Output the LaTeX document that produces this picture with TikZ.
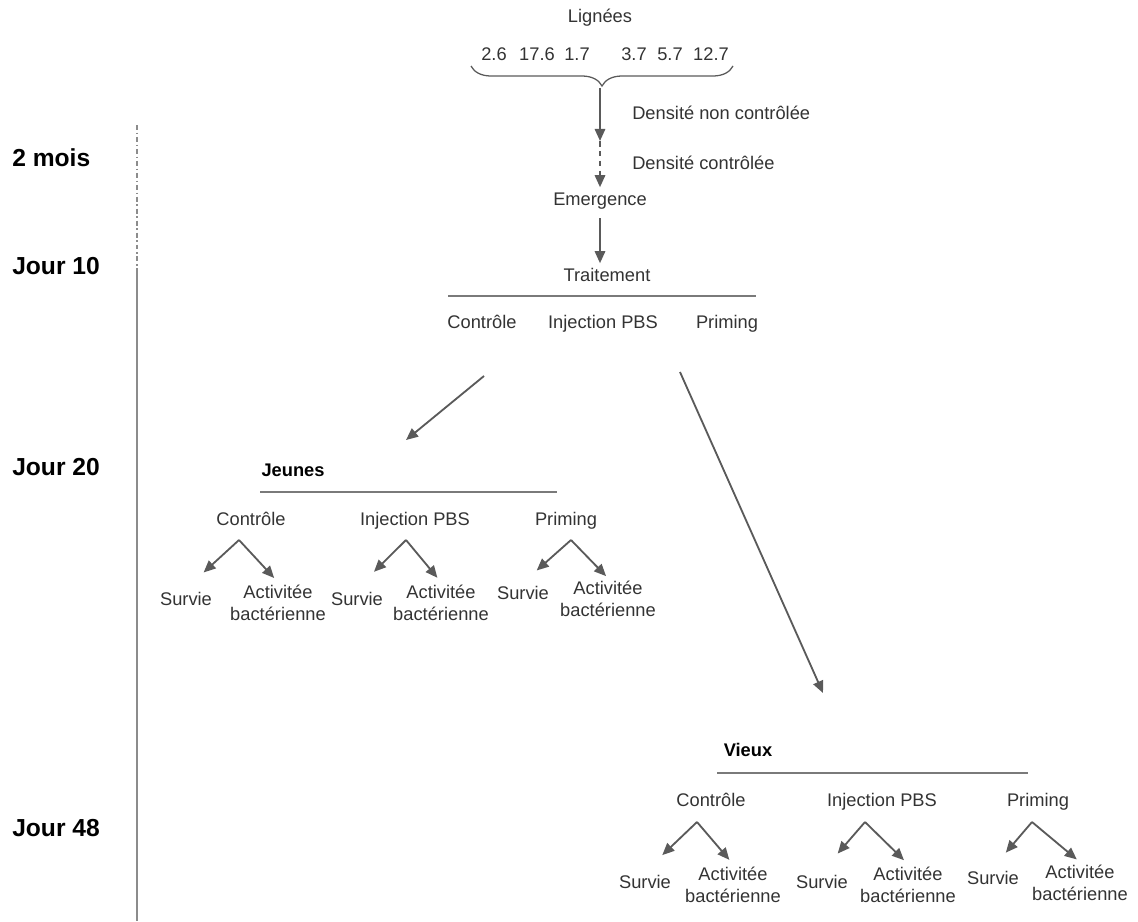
\documentclass[tikz,border=0pt]{standalone}
\usepackage{fontspec}
\setmainfont{Liberation Sans}
\usepackage{xcolor}
\usepackage{tikz}
\usetikzlibrary{arrows.meta,decorations.pathreplacing}

\definecolor{txtgray}{HTML}{333333}
\definecolor{arrgray}{HTML}{5A5A5A}
\definecolor{rulegray}{HTML}{7A7A7A}
\definecolor{timegray}{HTML}{8C8C8C}

\begin{document}
\begin{tikzpicture}[
x=0.025cm, y=-0.025cm,
lbl/.style={font=\fontsize{13}{15.6}\selectfont, text=txtgray, inner sep=2pt, align=center},
onelbl/.style={lbl, text height=1em, text depth=0.18em},
grplbl/.style={font=\fontsize{13}{15.6}\selectfont\bfseries, text=black, inner sep=2pt},
daylbl/.style={font=\fontsize{17.5}{21}\selectfont\bfseries, text=black, anchor=west, inner sep=0pt},
denslbl/.style={lbl, anchor=west, inner sep=0pt},
grprule/.style={draw=rulegray, line width=1pt},
arr/.style={-{Triangle[length=3mm,width=2.6mm]}, draw=arrgray, line width=1.3pt},
brace/.style={decorate, decoration={brace, mirror, amplitude=0.5cm, aspect=0.5},
draw=arrgray, line width=0.9pt}
]
\useasboundingbox (0,0) rectangle (1138,921);

% time line
\node[daylbl] (t0) at (12,158) {2 mois};
\node[daylbl] (t10) at (12,266) {Jour 10};
\node[daylbl] (t20) at (12,467) {Jour 20};
\node[daylbl] (t48) at (12,828) {Jour 48};
\coordinate (ttop) at (137,125);
\coordinate (tmid) at (137,268);
\coordinate (tbot) at (137,921);
\draw[draw=timegray, line width=1.3pt, dash pattern=on 3.5pt off 2pt on 1pt off 2pt] (ttop) -- (tmid);
\draw[draw=timegray, line width=1.4pt] (tmid) -- (tbot);

% lignees
\node[onelbl] (lign) at (600,17) {Lignées};
\node[onelbl] (l1) at (494,55) {2.6};
\node[onelbl] (l2) at (537,55) {17.6};
\node[onelbl] (l3) at (577,55) {1.7};
\node[onelbl] (l4) at (634,55) {3.7};
\node[onelbl] (l5) at (670,55) {5.7};
\node[onelbl] (l6) at (711,55) {12.7};
\draw[brace] (471,66) -- (733,66);
\coordinate (brtip) at (600,88);
\coordinate (dens) at (600,141);

\node[denslbl] (dnc) at (632,113) {Densité non contrôlée};
\node[denslbl] (dc) at (632,163) {Densité contrôlée};
\node[onelbl] (emerg) at (600,200) {Emergence};
\node[onelbl] (trait) at (607,276) {Traitement};
\draw[grprule] (448,296) -- (756,296);
\node[onelbl] (tc) at (482,323) {Contrôle};
\node[onelbl] (tp) at (603,323) {Injection PBS};
\node[onelbl] (tr) at (727,323) {Priming};

\draw[arr] (brtip) -- (dens);
\draw[arr, dash pattern=on 4pt off 3pt] (dens) -- ([yshift=1pt]emerg.north);
\draw[arr, shorten <=5pt, shorten >=1pt] (emerg.south) -- (emerg.south |- trait.north);

\coordinate (ajs) at (484,376);
\coordinate (aje) at (406,440);
\coordinate (avs) at (680,372);
\coordinate (ave) at (823,693);
\draw[arr] (ajs) -- (aje);
\draw[arr] (avs) -- (ave);

% jeunes
\node[grplbl] (jeunes) at (293,470) {Jeunes};
\draw[grprule] (260,492) -- (557,492);
\node[onelbl] (jc) at (251,520) {Contrôle};
\node[onelbl] (jp) at (415,520) {Injection PBS};
\node[onelbl] (jr) at (566,520) {Priming};
\coordinate (jcx) at (239,540);
\coordinate (jpx) at (406,540);
\coordinate (jrx) at (571,540);
\node[onelbl] (jcs) at (186,600) {Survie};
\node[lbl] (jca) at (278,603) {Activitée\\bactérienne};
\node[onelbl] (jps) at (357,600) {Survie};
\node[lbl] (jpa) at (441,603) {Activitée\\bactérienne};
\node[onelbl] (jrs) at (523,594) {Survie};
\node[lbl] (jra) at (608,599) {Activitée\\bactérienne};
\draw[arr, shorten >=17pt] (jcx) -- (jcs.north);
\draw[arr, shorten >=4pt] (jcx) -- (jca.north);
\draw[arr, shorten >=17pt] (jpx) -- (jps.north);
\draw[arr, shorten >=4pt] (jpx) -- (jpa.north);
\draw[arr, shorten >=13pt] (jrx) -- (jrs.north);
\draw[arr, shorten >=2pt] (jrx) -- (jra.north);

% vieux
\node[grplbl] (vieux) at (748,750) {Vieux};
\draw[grprule] (717,773) -- (1028,773);
\node[onelbl] (vc) at (711,801) {Contrôle};
\node[onelbl] (vp) at (882,801) {Injection PBS};
\node[onelbl] (vr) at (1038,801) {Priming};
\coordinate (vcx) at (697,822);
\coordinate (vpx) at (865,822);
\coordinate (vrx) at (1032,822);
\node[onelbl] (vcs) at (645,883) {Survie};
\node[lbl] (vca) at (733,885) {Activitée\\bactérienne};
\node[onelbl] (vps) at (822,883) {Survie};
\node[lbl] (vpa) at (908,885) {Activitée\\bactérienne};
\node[onelbl] (vrs) at (993,879) {Survie};
\node[lbl] (vra) at (1080,883) {Activitée\\bactérienne};
\draw[arr, shorten >=17pt] (vcx) -- (vcs.north);
\draw[arr, shorten >=4pt] (vcx) -- (vca.north);
\draw[arr, shorten >=17pt] (vpx) -- (vps.north);
\draw[arr, shorten >=4pt] (vpx) -- (vpa.north);
\draw[arr, shorten >=14pt] (vrx) -- (vrs.north);
\draw[arr, shorten >=3pt] (vrx) -- (vra.north);
\end{tikzpicture}
\end{document}
